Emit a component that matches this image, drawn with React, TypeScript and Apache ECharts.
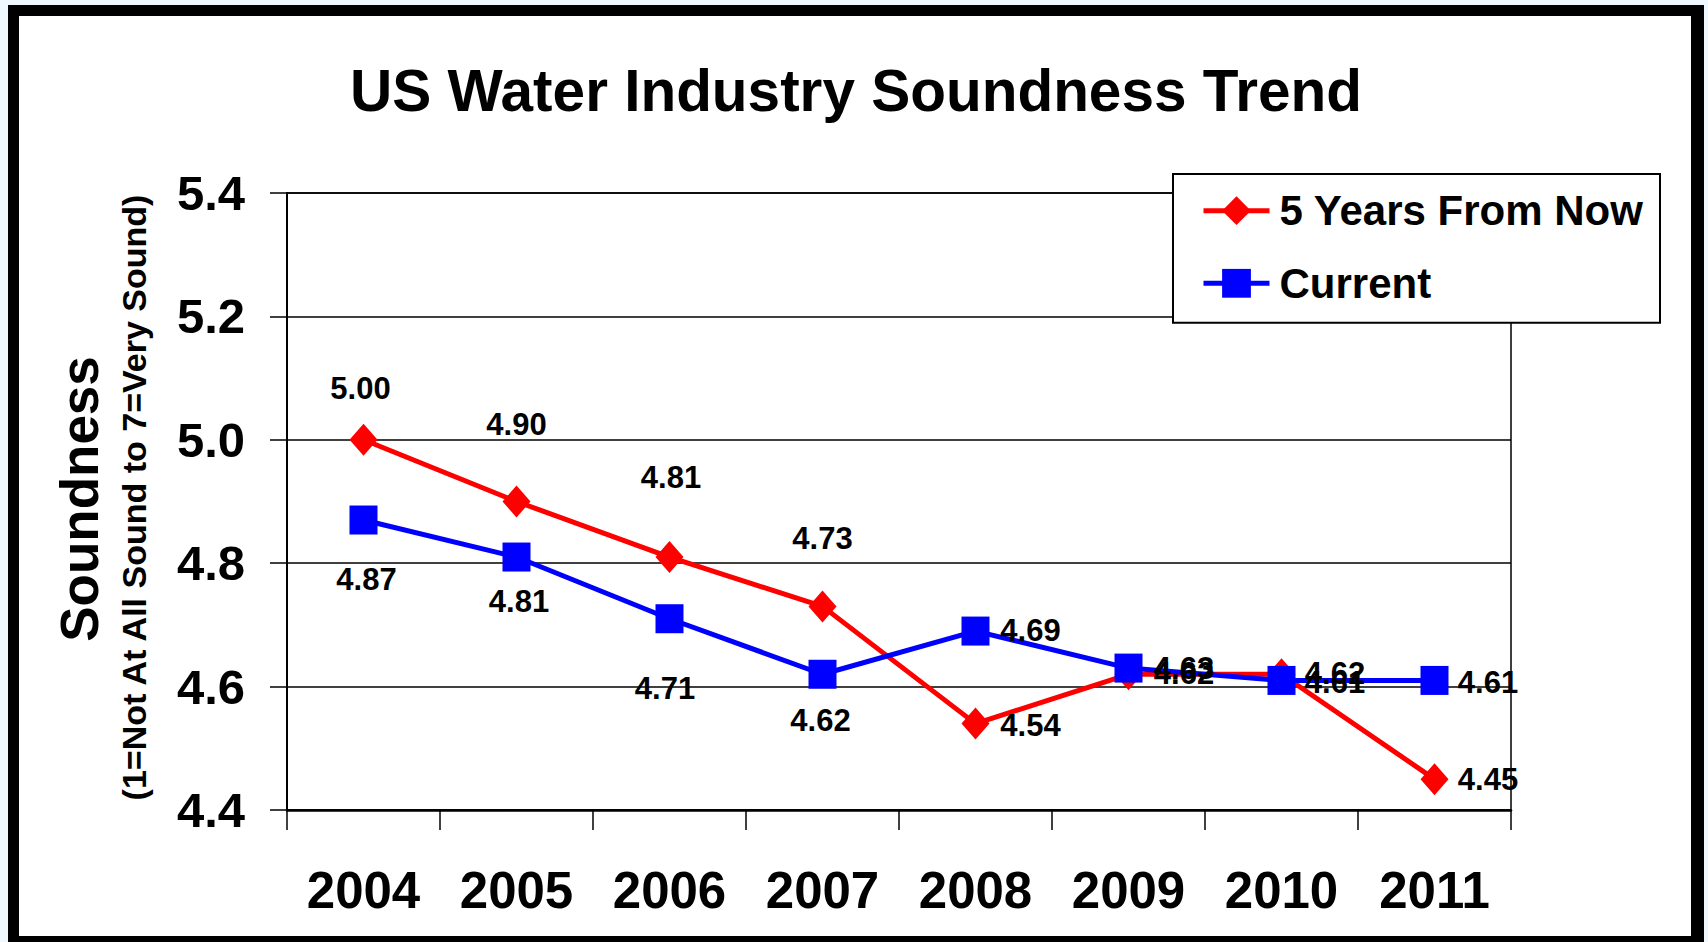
import React, { useEffect, useRef } from "react";
import * as echarts from "echarts";

// ---- data ----
const years = ["2004", "2005", "2006", "2007", "2008", "2009", "2010", "2011"];
const fiveYearsFromNow = [5.0, 4.9, 4.81, 4.73, 4.54, 4.62, 4.62, 4.45];
const current = [4.87, 4.81, 4.71, 4.62, 4.69, 4.63, 4.61, 4.61];
const yTickValues = [4.4, 4.6, 4.8, 5.0, 5.2, 5.4];
const seriesNames = ["5 Years From Now", "Current"];
const titleText = "US Water Industry Soundness Trend";
const yAxisTitle = "Soundness";
const yAxisSubtitle = "(1=Not At All Sound to 7=Very Sound)";

// ---- label placement (style, separate from data) ----
const redLabelOffsets: [number, number][] = [
  [-3, -51.5], [0, -77], [1.5, -80], [0, -68], [55, 1.4], [55.5, -1], [53.5, -1], [53.5, 0.8],
];
const blueLabelOffsets: [number, number][] = [
  [3, 59.5], [2.5, 44.7], [-4.5, 69.6], [-2, 46], [55, -1], [55.5, 0.5], [53.5, 2.5], [53.5, 2.5],
];

const FONT = "'Liberation Sans', Arial, Helvetica, sans-serif";
const RED = "#FF0000";
const BLUE = "#0000FF";

function buildOption() {
  const labelBase = {
    show: true,
    position: "inside",
    fontSize: 31,
    fontWeight: "bold",
    fontFamily: FONT,
    color: "#000",
    textBorderWidth: 0,
    formatter: (p: any) => Number(p.value).toFixed(2),
  };
  return {
    animation: false,
    backgroundColor: "transparent",
    grid: {
      left: 287,
      right: 197,
      top: 193,
      bottom: 132,
      show: true,
      borderColor: "#000",
      borderWidth: 1.5,
      backgroundColor: "transparent",
      containLabel: false,
      outerBoundsMode: "none",
    },
    legend: {
      orient: "vertical",
      left: 1201,
      top: 189.7,
      padding: 0,
      itemGap: 30.6,
      itemWidth: 66,
      itemHeight: 36,
      selectedMode: false,
      data: seriesNames,
      lineStyle: { width: 5 },
      textStyle: {
        fontSize: 42,
        fontWeight: "bold",
        fontFamily: FONT,
        color: "#000",
        lineHeight: 42,
        padding: [0, 0, 0, 5],
      },
    },
    xAxis: {
      type: "category",
      data: years,
      boundaryGap: true,
      axisLine: { show: true, lineStyle: { color: "#000", width: 2.5 } },
      axisTick: { show: true, length: 20, alignWithLabel: false, interval: 0, lineStyle: { color: "#000", width: 1.5 } },
      axisLabel: {
        color: "#000",
        fontSize: 51,
        fontWeight: "bold",
        fontFamily: FONT,
        margin: 55,
        interval: 0,
      },
      splitLine: { show: false },
    },
    yAxis: {
      type: "value",
      min: yTickValues[0],
      max: yTickValues[yTickValues.length - 1],
      interval: 0.2,
      axisLine: { show: true, lineStyle: { color: "#000", width: 2 } },
      axisTick: { show: true, length: 17, lineStyle: { color: "#000", width: 1.5 } },
      axisLabel: {
        color: "#000",
        fontSize: 49,
        fontWeight: "bold",
        fontFamily: FONT,
        margin: 42,
        formatter: (v: number) => v.toFixed(1),
      },
      splitLine: { show: true, lineStyle: { color: "#000", width: 1.5 } },
    },
    graphic: [
      {
        type: "rect",
        z: 3,
        shape: { x: 1173, y: 174, width: 487, height: 148.7 },
        style: { fill: "#fff", stroke: "#000", lineWidth: 2 },
      },
      {
        type: "text",
        x: 856,
        y: 90,
        style: {
          text: titleText,
          fontSize: 58.5,
          fontWeight: "bold",
          fontFamily: FONT,
          fill: "#000",
          align: "center",
          verticalAlign: "middle",
        },
      },
      {
        type: "text",
        x: 79.6,
        y: 499,
        rotation: Math.PI / 2,
        style: {
          text: yAxisTitle,
          fontSize: 53,
          fontWeight: "bold",
          fontFamily: FONT,
          fill: "#000",
          align: "center",
          verticalAlign: "middle",
        },
      },
      {
        type: "text",
        x: 134,
        y: 497.5,
        rotation: Math.PI / 2,
        style: {
          text: yAxisSubtitle,
          fontSize: 34,
          fontWeight: "bold",
          fontFamily: FONT,
          fill: "#000",
          align: "center",
          verticalAlign: "middle",
        },
      },
    ],
    series: [
      {
        name: seriesNames[0],
        type: "line",
        z: 2,
        symbol: "diamond",
        symbolSize: [28, 32],
        lineStyle: { color: RED, width: 5 },
        itemStyle: { color: RED },
        label: labelBase,
        data: fiveYearsFromNow.map((v, i) => ({ value: v, label: { offset: redLabelOffsets[i] } })),
      },
      {
        name: seriesNames[1],
        type: "line",
        z: 2,
        symbol: "rect",
        symbolSize: [28, 29],
        lineStyle: { color: BLUE, width: 5 },
        itemStyle: { color: BLUE },
        label: labelBase,
        data: current.map((v, i) => ({ value: v, label: { offset: blueLabelOffsets[i] } })),
      },
    ],
  };
}

export default function App() {
  const ref = useRef<HTMLDivElement>(null);
  useEffect(() => {
    if (!ref.current) return;
    const chart = echarts.init(ref.current, null, { renderer: "svg" });
    chart.setOption(buildOption() as any);
    return () => chart.dispose();
  }, []);
  return (
    <div
      style={{
        position: "fixed",
        left: 0,
        top: 0,
        width: 1708,
        height: 942,
        overflow: "hidden",
        background: "#F0F8FF",
      }}
    >
      <div
        style={{
          position: "absolute",
          left: 8,
          top: 5,
          width: 1672,
          height: 920,
          borderStyle: "solid",
          borderColor: "#000",
          borderWidth: "11px 13px 11px 11px",
          background: "#fff",
        }}
      />
      <div ref={ref} style={{ position: "absolute", left: 0, top: 0, width: 1708, height: 942 }} />
    </div>
  );
}
